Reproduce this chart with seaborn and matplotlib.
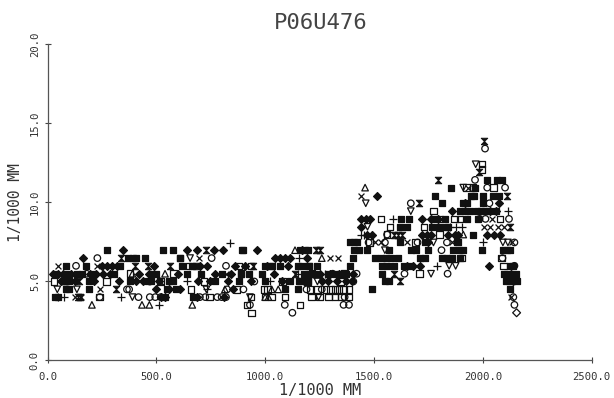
import matplotlib; matplotlib.use("Agg")
import matplotlib.pyplot as plt
import seaborn as sns
import pandas as pd
from matplotlib.path import Path

sns.set_theme(style="white")
plt.rcParams["font.family"] = ["DejaVu Sans Mono"]

# 读图估计的点，(x, y)
diamond = [
    (348,6.95),(639,6.95),(685,6.95),(767,6.95),(805,6.95),(964,6.95),(1168,6.95),
    (161,6.45),(1045,6.45),(1068,6.45),(1091,6.45),(1114,6.45),(1190,6.45),
    (249,5.96),(272,5.96),(295,5.96),(318,5.96),(490,5.96),(700,5.96),(731,5.96),(860,5.96),(905,5.96),(1010,5.96),(1105,5.96),
    (25,5.46),(48,5.46),(72,5.46),(110,5.46),(195,5.46),(222,5.46),(255,5.46),(288,5.46),(420,5.46),(465,5.46),(600,5.46),(770,5.46),(842,5.46),(1040,5.46),
    (60,4.97),(125,4.97),(215,4.97),(330,4.97),(405,4.97),(440,4.97),(512,4.97),(690,4.97),(745,4.97),(830,4.97),(935,4.97),(1075,4.97),(1180,4.97),
    (1512,10.41),(1857,9.42),(1440,8.93),(1462,8.93),(1482,8.93),(1722,8.93),(1760,8.93),(1795,8.93),
    (1470,7.94),(1490,7.94),(1722,7.94),(1745,7.94),(1762,7.94),(1840,7.94),(1870,7.94),(1885,7.94),(2020,7.94),(2050,7.94),(2080,7.94),
    (2075,9.92),(2032,9.42),(2060,9.42),(1746,7.44),(2030,5.96),(1650,5.96),(1680,5.96),(1710,5.96),(1405,5.46),(1225,5.46),(1300,5.46),(1260,4.97),(1400,4.97),
    (540,3.98),(520,3.98),(685,3.98),(812,3.98),(2130,5.46),(2140,4.97),
    (1440,8.43),(1920,9.92),(1290,4.97),(1330,4.97),(1370,4.97),(1250,5.46),(1340,5.46),(500,4.47),(560,4.47),(610,4.47),(850,4.47),
]
bow_fill = [
    (275,6.95),(529,6.95),(575,6.95),(892,6.95),(898,6.95),(1183,6.95),(1195,6.95),
    (371,6.45),(394,6.45),(407,6.45),(448,6.45),(609,6.45),
    (85,5.96),(177,5.96),(331,5.96),(662,5.96),(616,5.96),(1000,5.96),(1032,5.96),(1070,5.96),(1150,5.96),
    (35,5.46),(90,5.46),(135,5.46),(160,5.46),(210,5.46),(305,5.46),(480,5.46),(500,5.46),(640,5.46),(705,5.46),(800,5.46),(890,5.46),(925,5.46),(985,5.46),
    (85,4.97),(100,4.97),(190,4.97),(378,4.97),(460,4.97),(475,4.97),(560,4.97),(575,4.97),(770,4.97),(880,4.97),(1000,4.97),(1112,4.97),(1155,4.97),(1195,4.97),
    (85,4.47),(100,4.47),(190,4.47),(550,4.47),(590,4.47),(1090,4.47),(1150,4.47),
    (35,3.98),(50,3.98),(540,3.98),(670,3.98),(1160,6.95),
    (1852,10.91),(2018,11.40),(2064,11.40),(2087,11.40),(1780,10.41),(1945,10.41),(1960,10.41),(2045,10.41),(2075,10.41),
    (1814,9.92),(1910,9.92),(1926,9.92),(1895,9.42),(1918,9.42),(1940,9.42),(1992,9.42),(2010,9.42),(2030,9.42),(2060,9.42),
    (1661,8.93),(1770,8.93),(1825,8.93),(1925,8.93),(1620,8.43),(1650,8.43),(1765,8.43),(1800,8.43),(1830,8.43),(1955,7.94),
    (1390,7.44),(1410,7.44),(1420,7.44),(1619,7.44),(1735,7.44),(1885,7.44),(1410,6.95),(1430,6.95),(1470,6.95),(1672,6.95),(1695,6.95),(1748,6.95),(1865,6.95),(1890,6.95),(1910,6.95),(1995,6.95),(2092,6.95),(2110,6.95),(2125,6.95),
    (1405,6.45),(1505,6.45),(1530,6.45),(1555,6.45),(1580,6.45),(1610,6.45),(1710,6.45),(1735,6.45),(1810,6.45),(1835,6.45),(1860,6.45),(1895,6.45),
    (1390,5.96),(1535,5.96),(1560,5.96),(1590,5.96),(1640,5.96),(1670,5.96),(2125,5.96),(2140,5.96),
    (1535,5.46),(2095,5.46),(2110,5.46),(2150,5.46),(2105,4.97),(2120,4.97),(2155,4.97),(1550,4.97),(1570,4.97),(1490,4.47),(1170,5.96),(1200,5.96),(1240,5.96),(1290,5.46),(1345,5.46),(1370,5.46),
    (1965,10.91),(2000,10.41),(2000,9.92),(1975,9.42),(1978,8.93),(1625,8.93),(1840,8.43),(1880,7.44),(1570,6.95),(2125,4.47),(2135,4.97),
    (1205,5.46),(1230,5.46),(1160,4.97),(1180,5.46),(1320,5.46),
]
bowtie = [
    (727,6.95),(336,6.45),(402,5.96),(463,5.96),(563,5.96),(140,3.98),(150,3.98),(1250,6.95),
    (145,4.97),(680,5.96),(1135,5.46),(1796,11.40),(2005,13.88),(1982,11.90),(1708,9.92),(2111,10.41),(2125,8.43),
    (1610,7.94),(1630,7.94),(1590,7.94),(1593,5.46),(1620,4.97),(945,5.96),(515,4.97),(315,4.47),(1235,6.95),
]
square = [
    (30,4.97),(1995,12.39),(1995,12.05),(1925,10.91),(1955,10.91),(2048,10.91),(1773,9.42),(1532,8.93),(1573,8.43),
    (1730,8.43),(1800,8.93),(1870,8.93),(1895,8.93),(2079,8.93),(1690,7.44),(1480,7.44),(1800,7.94),(1560,7.94),(2085,6.45),(1905,6.45),
    (1708,5.46),(2095,5.96),(609,6.45),(650,5.96),(880,5.96),(935,5.96),(1010,4.47),(1090,3.98),(995,4.47),
    (745,3.98),(935,3.98),(1000,3.98),(1030,3.98),(916,3.49),(1160,3.49),(936,2.99),(240,3.98),(1205,4.47),(1240,4.47),(1280,4.47),(1320,4.47),(1360,4.47),
    (1290,3.98),(1320,3.98),(1350,3.98),(1385,3.98),(1213,3.98),(1250,3.98),(520,4.97),(270,4.97),(720,4.97),(870,4.47),(660,4.47),(1365,5.46),(1195,4.97),
    (1300,4.47),(1340,4.47),(1385,4.47),(1200,5.96),(1345,4.97),(1215,5.46),(1080,4.97),(890,5.46),(580,5.46),(380,5.46),(1020,5.96),
]
circle = [
    (229,6.45),(131,5.96),(754,6.45),(820,5.96),(1669,9.92),(1964,11.40),(2010,13.38),(2102,10.91),(2020,10.91),(2030,9.92),
    (1985,8.93),(2012,8.93),(2120,8.93),(1475,7.44),(1550,7.44),(1700,7.44),(1835,7.44),(2145,7.44),(1810,6.95),(1838,5.46),(1640,5.46),
    (240,3.98),(418,3.98),(470,3.98),(495,3.98),(520,3.98),(820,3.98),(825,4.47),(900,4.47),(930,3.49),(1090,3.49),(1125,2.99),(2145,3.49),
    (180,5.46),(375,4.47),(365,4.47),(1360,3.49),(1385,3.49),(1365,3.98),(1420,5.46),(1560,7.94),(2090,6.45),(2145,5.96),(470,4.97),(950,4.97),
    (700,3.98),(725,3.98),(780,3.98),(800,3.98),(1310,5.46),(1190,4.47),(1260,4.47),(1405,4.97),(2140,3.98),
]
tri_up = [
    (1459,10.91),(204,3.49),(434,3.49),(468,3.49),(665,3.49),(1260,6.45),(1137,6.95),(1000,3.98),(1030,4.47),(1060,4.47),(1015,3.98),
    (1910,7.94),(390,5.46),(540,5.46),(80,4.97),(815,4.47),
]
tri_down = [
    (1462,9.92),(1669,9.42),(655,6.45),(1910,10.91),(1967,12.39),(1470,8.43),(1550,6.95),(1773,7.44),(1845,5.96),(1875,5.96),(1762,5.46),
    (2092,7.44),(2115,7.44),(390,3.98),(930,3.98),(1245,3.98),(45,4.47),(135,4.47),(730,4.47),(1240,4.97),
]
plus = [
    (838,7.41),(1155,6.45),(1586,8.93),(50,3.98),(338,3.98),(510,3.49),(735,4.47),(1275,5.46),(1790,5.96),(2115,9.42),
    (1490,7.94),(1850,8.43),(1878,8.43),(1905,8.43),(2000,7.44),(1440,7.94),(1455,7.94),(75,3.98),(1150,5.46),(640,4.97),(1020,4.97),
]
cross = [
    (696,6.45),(50,5.96),(226,5.96),(1441,10.41),(1300,6.45),(1335,6.45),(1930,10.91),(1955,10.41),(2005,8.43),(2035,8.43),(2070,8.43),(2095,8.43),
    (1505,7.44),(1530,7.44),(1650,7.44),(1860,7.44),(2130,3.98),(2040,8.93),(640,5.46),(125,3.98),(155,3.98),(2135,7.44),(820,5.46),(240,4.47),
]
open_diamond = [(2155,2.99)]

fig = plt.figure(figsize=(6.14, 3.98), dpi=100)
ax = fig.add_axes([47.5 / 614, 38 / 398, 544.2 / 614, 316 / 398])


def draw(pts, marker, filled=True, lw=0.9, s=22):
    df = pd.DataFrame(pts, columns=["x", "y"])
    if marker in ("+", "x"):
        sns.scatterplot(data=df, x="x", y="y", marker=marker, color="#111111", s=s, linewidth=lw, ax=ax, clip_on=False)
    else:
        sns.scatterplot(data=df, x="x", y="y", marker=marker, s=s, linewidth=lw, ax=ax,
                        facecolor="#111111" if filled else "none", edgecolor="#111111", clip_on=False)


bow_path = Path([(-1, -1), (1, -1), (-1, 1), (1, 1), (-1, -1)], closed=False)
draw(square, "s", filled=False)
draw(circle, "o", filled=False)
draw(tri_up, "^", filled=False)
draw(tri_down, "v", filled=False)
draw(open_diamond, "D", filled=False, s=16)
draw(plus, "+", s=26)
draw(cross, "x", s=18)
draw(diamond, "D", s=16)
draw(bow_fill, "s", s=24)
draw(bowtie, bow_path, s=22, lw=0.7)

ax.set_xlim(0, 2500)
ax.set_ylim(0, 20)
ax.set_xticks([0, 500, 1000, 1500, 2000, 2500])
ax.set_xticklabels(["0.0", "500.0", "1000.0", "1500.0", "2000.0", "2500.0"], fontsize=7.6, color="#333333")
ax.set_yticks([0, 5, 10, 15, 20])
ax.set_yticklabels(["0.0", "5.0", "10.0", "15.0", "20.0"], fontsize=7.6, color="#333333", rotation=90, va="center")
ax.tick_params(direction="inout", length=5, width=0.8, color="#444444", bottom=True, left=True, pad=3)
ax.tick_params(axis="x", pad=6)
ax.set_xlabel("")
ax.set_ylabel("")
sns.despine(ax=ax)
for side in ("left", "bottom"):
    ax.spines[side].set_color("#555555")
    ax.spines[side].set_linewidth(0.9)

fig.text(321 / 614, 1 - 23 / 398, "P06U476", fontsize=16, color="#444444", ha="center", va="center")
fig.text(320 / 614, 1 - 391 / 398, "1/1000 MM", fontsize=11, color="#333333", ha="center", va="center")
fig.text(16 / 614, 1 - 203 / 398, "1/1000 MM", fontsize=10.5, color="#333333", ha="center", va="center", rotation=90)

fig.savefig("out.png", dpi=100)
